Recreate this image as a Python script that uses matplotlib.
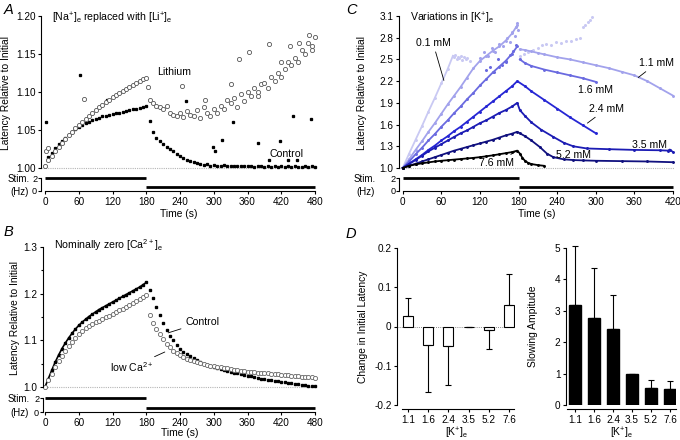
import matplotlib
matplotlib.use("Agg")
import matplotlib.pyplot as plt
from matplotlib.ticker import FormatStrFormatter

plt.rcParams["font.family"] = ["Liberation Sans", "DejaVu Sans"]
plt.rcParams["font.size"] = 7.2
plt.rcParams["mathtext.default"] = "regular"
plt.rcParams["axes.linewidth"] = 0.8

FS_TICK = 7.2
FS_LAB = 7.4
FS_TXT = 7.6

# ---------------- data ----------------
T6 = [0, 6, 12, 18, 24, 30, 36, 42, 48, 54, 60, 66, 72, 78, 84, 90, 96, 102, 108, 114,
      120, 126, 132, 138, 144, 150, 156, 162, 168, 174, 180, 186, 192, 198, 204, 210, 216,
      222, 228, 234, 240, 246, 252, 258, 264, 270, 276, 282, 288, 294, 300, 306, 312, 318,
      324, 330, 336, 342, 348, 354, 360, 366, 372, 378, 384, 390, 396, 402, 408, 414, 420,
      426, 432, 438, 444, 450, 456, 462, 468, 474, 480]

# A: Na replaced with Li
li_a = [1.002, 1.010, 1.016, 1.022, 1.028, 1.033, 1.038, 1.043, 1.048, 1.052, 1.056, 1.061,
        1.065, 1.069, 1.073, 1.076, 1.080, 1.083, 1.087, 1.090, 1.093, 1.096, 1.099, 1.101,
        1.104, 1.107, 1.109, 1.112, 1.114, 1.117, 1.119,
        1.090, 1.085, 1.082, 1.080, 1.078, 1.082, 1.072, 1.070, 1.068, 1.073, 1.067, 1.075,
        1.070, 1.068, 1.076, 1.066, 1.080, 1.073, 1.068, 1.078, 1.072, 1.082, 1.078, 1.090,
        1.085, 1.092, 1.080, 1.098, 1.088, 1.100, 1.095, 1.105, 1.100, 1.110, 1.112, 1.105,
        1.120, 1.115, 1.125, 1.120, 1.130, 1.140, 1.135, 1.145, 1.140, 1.155, 1.150, 1.165,
        1.160, 1.172]
li_a_extra_t = [2, 5, 70, 183, 243, 285, 330, 345, 362, 378, 398, 420, 436, 452, 470, 475]
li_a_extra = [1.022, 1.026, 1.091, 1.106, 1.108, 1.090, 1.110, 1.143, 1.152, 1.095, 1.163,
              1.140, 1.160, 1.165, 1.175, 1.155]
ctrl_a = [1.003, 1.015, 1.020, 1.026, 1.031, 1.036, 1.040, 1.044, 1.048, 1.051, 1.054, 1.056,
          1.059, 1.061, 1.063, 1.065, 1.066, 1.068, 1.069, 1.070, 1.071, 1.072, 1.073, 1.074,
          1.075, 1.076, 1.077, 1.078, 1.079, 1.080, 1.081,
          1.062, 1.048, 1.040, 1.035, 1.031, 1.028, 1.025, 1.022, 1.018, 1.016, 1.013, 1.011,
          1.009, 1.008, 1.006, 1.005, 1.004, 1.005, 1.003, 1.004, 1.003, 1.002, 1.004, 1.002,
          1.003, 1.002, 1.003, 1.002, 1.002, 1.003, 1.002, 1.001, 1.002, 1.002, 1.001, 1.002,
          1.001, 1.003, 1.001, 1.002, 1.001, 1.002, 1.001, 1.002, 1.001, 1.001, 1.002, 1.001,
          1.002, 1.001]
ctrl_a_extra_t = [1, 62, 110, 250, 298, 302, 314, 334, 378, 398, 418, 432, 440, 448, 472]
ctrl_a_extra = [1.061, 1.123, 1.090, 1.088, 1.028, 1.022, 1.037, 1.060, 1.033, 1.010, 1.035,
                1.010, 1.068, 1.010, 1.065]

# B: nominally zero Ca
ctrl_b = [1.000, 1.018, 1.036, 1.053, 1.068, 1.082, 1.094, 1.105, 1.115, 1.124, 1.132, 1.139,
          1.145, 1.151, 1.156, 1.161, 1.166, 1.170, 1.174, 1.178, 1.182, 1.186, 1.190, 1.194,
          1.198, 1.202, 1.206, 1.210, 1.214, 1.219, 1.224,
          1.208, 1.190, 1.172, 1.155, 1.138, 1.123, 1.110, 1.100, 1.090, 1.082, 1.076, 1.070,
          1.066, 1.062, 1.058, 1.054, 1.050, 1.047, 1.044, 1.042, 1.040, 1.038, 1.036, 1.034,
          1.032, 1.030, 1.029, 1.027, 1.026, 1.024, 1.023, 1.021, 1.020, 1.018, 1.017, 1.016,
          1.015, 1.013, 1.012, 1.011, 1.010, 1.009, 1.008, 1.007, 1.006, 1.005, 1.004, 1.003,
          1.003, 1.002]
lowca_b = [1.000, 1.014, 1.028, 1.042, 1.055, 1.067, 1.078, 1.088, 1.097, 1.105, 1.113, 1.120,
           1.126, 1.131, 1.135, 1.139, 1.142, 1.145, 1.149, 1.152, 1.156, 1.160, 1.164, 1.168,
           1.172, 1.176, 1.180, 1.184, 1.188, 1.193, 1.198,
           1.155, 1.138, 1.125, 1.113, 1.102, 1.093, 1.085, 1.078, 1.073, 1.068, 1.064, 1.060,
           1.057, 1.055, 1.053, 1.051, 1.049, 1.048, 1.046, 1.045, 1.043, 1.042, 1.041, 1.040,
           1.038, 1.037, 1.036, 1.035, 1.034, 1.033, 1.033, 1.032, 1.031, 1.030, 1.029, 1.029,
           1.028, 1.027, 1.027, 1.026, 1.025, 1.025, 1.024, 1.023, 1.023, 1.022, 1.022, 1.021,
           1.021, 1.020]

# C: variations in [K+]e  (time, value)
T_RISE = [0, 10, 20, 30, 40, 50, 60, 70, 80, 90, 100, 110, 120, 130, 140, 150, 160, 170, 178]
k01_t = [0, 10, 20, 30, 40, 50, 60, 70, 78]
k01 = [1.0, 1.2, 1.39, 1.58, 1.78, 1.97, 2.17, 2.37, 2.55]
k01_scat_t = [80, 82, 84, 86, 88, 90, 92, 95, 98, 100, 104,
              182, 188, 195, 202, 210, 216, 222, 230, 238, 246, 254, 262, 270, 276, 280, 284,
              288, 291, 294]
k01_scat = [2.53, 2.56, 2.50, 2.54, 2.52, 2.55, 2.49, 2.53, 2.50, 2.52, 2.48,
            2.55, 2.58, 2.60, 2.63, 2.66, 2.70, 2.72, 2.70, 2.74, 2.73, 2.76, 2.75, 2.78, 2.80,
            2.95, 2.98, 3.02, 3.05, 3.09]
k11 = [1.0, 1.12, 1.25, 1.37, 1.5, 1.62, 1.75, 1.88, 2.0, 2.12, 2.25, 2.38, 2.48, 2.55, 2.62,
       2.68, 2.76, 2.86, 2.97]
k11_scat_t = [120, 126, 132, 138, 144, 150, 156, 162, 166, 170, 174, 176, 178, 179]
k11_scat = [2.52, 2.60, 2.55, 2.66, 2.60, 2.72, 2.68, 2.80, 2.74, 2.88, 2.82, 2.95, 3.00, 2.90]
k11_fall_t = [182, 190, 200, 210, 220, 240, 260, 280, 300, 320, 340, 360, 380, 400, 420]
k11_fall = [2.64, 2.63, 2.61, 2.59, 2.57, 2.53, 2.50, 2.46, 2.42, 2.38, 2.33, 2.28, 2.20, 2.10,
            2.00]
k16 = [1.0, 1.09, 1.19, 1.28, 1.38, 1.47, 1.57, 1.66, 1.76, 1.85, 1.95, 2.04, 2.14, 2.23, 2.32,
       2.40, 2.48, 2.58, 2.68]
k16_scat_t = [130, 136, 142, 148, 154, 160, 166, 172, 176]
k16_scat = [2.35, 2.40, 2.33, 2.50, 2.42, 2.47, 2.56, 2.62, 2.70]
k16_fall_t = [182, 190, 200, 220, 240, 260, 280, 300]
k16_fall = [2.50, 2.45, 2.41, 2.36, 2.32, 2.28, 2.24, 2.19]
k24_t = T_RISE + [190, 200, 220, 240, 260, 280, 300]
k24 = [1.0, 1.06, 1.12, 1.18, 1.25, 1.31, 1.38, 1.44, 1.51, 1.57, 1.64, 1.71, 1.78, 1.85, 1.92,
       1.99, 2.06, 2.13, 2.20, 2.13, 2.06, 1.94, 1.82, 1.70, 1.59, 1.48]
k35_t = T_RISE + [182, 190, 200, 215, 234, 250, 265, 286, 320, 360, 400, 412, 415, 420]
k35 = [1.0, 1.055, 1.11, 1.17, 1.23, 1.28, 1.33, 1.38, 1.43, 1.48, 1.52, 1.57, 1.62, 1.66, 1.71,
       1.76, 1.80, 1.85, 1.90, 1.80, 1.72, 1.63, 1.53, 1.43, 1.35, 1.30, 1.27, 1.26, 1.25, 1.245,
       1.24, 1.255, 1.22]
k52_t = T_RISE + [182, 190, 200, 213, 224, 234, 250, 265, 280, 300, 340, 380, 420]
k52 = [1.0, 1.03, 1.06, 1.09, 1.12, 1.15, 1.18, 1.21, 1.24, 1.265, 1.29, 1.315, 1.34, 1.365,
       1.39, 1.42, 1.45, 1.475, 1.50, 1.48, 1.44, 1.38, 1.29, 1.20, 1.15, 1.12, 1.11, 1.105, 1.10,
       1.095, 1.09, 1.08]
k76_t = T_RISE + [182, 186, 190, 195, 200, 210, 220]
k76 = [1.0, 1.03, 1.05, 1.065, 1.078, 1.09, 1.10, 1.108, 1.116, 1.124, 1.132, 1.14, 1.15, 1.162,
       1.175, 1.19, 1.205, 1.22, 1.24, 1.20, 1.14, 1.10, 1.07, 1.055, 1.04, 1.03]

# stimulation protocol (start, end, rate Hz)
stim_ab = [(0, 180, 2.0), (180, 480, 0.6)]
stim_c = [(0, 180, 2.0), (180, 420, 0.6)]

# D: summary
k_labels = ["1.1", "1.6", "2.4", "3.5", "5.2", "7.6"]
init_change = [0.027, -0.047, -0.050, -0.001, -0.010, 0.054]
init_err = [0.046, 0.121, 0.100, 0.0, 0.048, 0.081]
slow_amp = [3.20, 2.78, 2.43, 1.00, 0.53, 0.50]
slow_err = [1.85, 1.59, 1.07, 0.0, 0.27, 0.28]

# ---------------- layout helpers ----------------
W, H = 680, 440
fig = plt.figure(figsize=(6.8, 4.4), dpi=100)


def axes_for(xd, xp, yd, yp, pad_l=4, pad_r=2, pad_b=3, pad_t=2):
    # xd data range shown at pixel cols xp; yd at pixel rows yp (bottom, top)
    sx = (xp[1] - xp[0]) / (xd[1] - xd[0])
    sy = (yp[0] - yp[1]) / (yd[1] - yd[0])
    x0, x1 = xp[0] - pad_l, xp[1] + pad_r
    yb, yt = yp[0] + pad_b, yp[1] - pad_t
    ax = fig.add_axes([x0 / W, 1 - yb / H, (x1 - x0) / W, (yb - yt) / H])
    ax.set_xlim(xd[0] - pad_l / sx, xd[1] + pad_r / sx)
    ax.set_ylim(yd[0] - pad_b / sy, yd[1] + pad_t / sy)
    ax.patch.set_alpha(0)
    for s in ("top", "right"):
        ax.spines[s].set_visible(False)
    ax.tick_params(direction="out", length=2.5, width=0.8, pad=1.5, labelsize=FS_TICK)
    return ax


def main_axes(xd, xp, yd, yp, yticks, fmt, ylab_x, pad_l=4):
    ax = axes_for(xd, xp, yd, yp, pad_l=pad_l)
    ax.spines["bottom"].set_visible(False)
    ax.set_xticks([])
    ax.spines["left"].set_bounds(*yd)
    ax.set_yticks(yticks)
    ax.yaxis.set_major_formatter(FormatStrFormatter(fmt))
    ax.axhline(yd[0], color="#b5b5b5", lw=0.8, ls=(0, (1, 1)), zorder=0)
    ax.set_ylabel("Latency Relative to Initial", fontsize=FS_LAB)
    ax.yaxis.set_label_coords(ylab_x, 0.5)
    return ax


def stim_axes(xd, xp, yp, xticks, phases, txt_x, pad_l=4):
    ax = axes_for(xd, xp, (0, 2), yp, pad_l=pad_l, pad_b=1, pad_t=1)
    ax.spines["left"].set_bounds(0, 2)
    ax.spines["bottom"].set_position(("data", 0))
    ax.spines["bottom"].set_bounds(*xd)
    ax.set_yticks([0, 2])
    ax.set_xticks(xticks)
    ax.tick_params(axis="y", length=2, pad=0.8, labelsize=6.6)
    ax.tick_params(axis="x", pad=2)
    for t0, t1, rate in phases:
        ax.plot([t0, t1], [rate, rate], color="black", lw=2.0, solid_capstyle="butt")
    ax.set_xlabel("Time (s)", fontsize=FS_LAB, labelpad=1)
    fig.text(txt_x / W, 1 - (yp[1] + 1.0) / H, "Stim.", ha="right", va="center", fontsize=7.0)
    fig.text((txt_x - 1) / W, 1 - (yp[0] + 0.5) / H, "(Hz)", ha="right", va="center", fontsize=7.0)
    return ax


# ---------------- A ----------------
axA = main_axes((0, 480), (45, 315), (1.0, 1.2), (168, 16),
                [1.0, 1.05, 1.1, 1.15, 1.2], "%.2f", -0.11)
axA.plot(T6, ctrl_a, ls="none", marker="s", ms=1.4, color="black", clip_on=False)
axA.plot(ctrl_a_extra_t, ctrl_a_extra, ls="none", marker="s", ms=1.4, color="black")
axA.plot(T6, li_a, ls="none", marker="o", ms=3, mfc="white", mec="#555555", mew=0.6, clip_on=False)
axA.plot(li_a_extra_t, li_a_extra, ls="none", marker="o", ms=3, mfc="white", mec="#555555", mew=0.6)
axA.text(0.04, 0.975, "[Na$^{+}$]$_{e}$ replaced with [Li$^{+}$]$_{e}$", transform=axA.transAxes,
         fontsize=FS_TXT, va="center")
axA.text(199, 1.126, "Lithium", fontsize=FS_TXT, va="center")
axA.text(400, 1.018, "Control", fontsize=FS_TXT, va="center")
stim_axes((0, 480), (45, 315), (191, 178), range(0, 481, 60), stim_ab, 30)

# ---------------- B ----------------
axB = main_axes((0, 480), (45, 315), (1.0, 1.3), (387, 247),
                [1.0, 1.1, 1.2, 1.3], "%.1f", -0.085, pad_l=2)
axB.set_yticks([1.05, 1.15, 1.25], minor=True)
axB.tick_params(which="minor", length=1.5, width=0.8)
axB.plot(T6[:31], ctrl_b[:31], color="black", lw=1.2)
axB.plot(T6, ctrl_b, ls="none", marker="s", ms=1.6, color="black", clip_on=False)
axB.plot(T6, lowca_b, ls="none", marker="o", ms=3, mfc="white", mec="#666666", mew=0.6, clip_on=False)
axB.text(0.04, 1.0, "Nominally zero [Ca$^{2+}$]$_{e}$", transform=axB.transAxes,
         fontsize=FS_TXT, va="center")
axB.annotate("Control", xy=(219, 1.116), xytext=(249, 1.139), fontsize=FS_TXT, va="center",
             arrowprops=dict(arrowstyle="-", lw=0.6, color="black", shrinkA=1, shrinkB=0))
axB.annotate("low Ca$^{2+}$", xy=(213, 1.075), xytext=(116, 1.043), fontsize=FS_TXT, va="center",
             arrowprops=dict(arrowstyle="-", lw=0.6, color="black", shrinkA=1, shrinkB=0))
sB = stim_axes((0, 480), (45, 315), (412, 398), range(0, 481, 60), stim_ab, 30, pad_l=2)
sB.set_xlabel("Time (s)", fontsize=FS_LAB, labelpad=0)

# ---------------- C ----------------
axC = main_axes((0, 420), (402.7, 673), (1.0, 3.1), (168, 16),
                [1.0, 1.3, 1.6, 1.9, 2.2, 2.5, 2.8, 3.1], "%.1f", -0.115, pad_l=3.5)
c01, c11, c16 = "#c9c9f3", "#a2a2ec", "#6a6ae0"
c24, c35, c52, c76 = "#2626d4", "#1c1cb4", "#10107e", "black"
line_kw = dict(lw=1.3, marker=".", ms=2.2)
axC.plot(k01_t, k01, color=c01, **line_kw)
axC.plot(k01_scat_t, k01_scat, ls="none", marker=".", ms=2.4, color=c01)
axC.plot(T_RISE, k11, color=c11, **line_kw)
axC.plot(k11_scat_t, k11_scat, ls="none", marker=".", ms=2.4, color=c11)
axC.plot(k11_fall_t, k11_fall, color=c11, **line_kw)
axC.plot(T_RISE, k16, color=c16, **line_kw)
axC.plot(k16_scat_t, k16_scat, ls="none", marker=".", ms=2.4, color=c16)
axC.plot(k16_fall_t, k16_fall, color=c16, **line_kw)
axC.plot(k24_t, k24, color=c24, **line_kw)
axC.plot(k35_t, k35, color=c35, **line_kw)
axC.plot(k52_t, k52, color=c52, **line_kw)
axC.plot(k76_t, k76, color=c76, **line_kw)
axC.text(0.04, 0.975, "Variations in [K$^{+}$]$_{e}$", transform=axC.transAxes,
         fontsize=FS_TXT, va="center")
ann = dict(arrowstyle="-", lw=0.6, color="black", shrinkA=1, shrinkB=0)
axC.annotate("0.1 mM", xy=(64, 2.21), xytext=(47, 2.73), fontsize=FS_TXT, ha="center", va="center",
             arrowprops=ann)
axC.annotate("1.1 mM", xy=(366, 2.25), xytext=(395, 2.45), fontsize=FS_TXT, ha="center", va="center",
             arrowprops=ann)
axC.text(299, 2.08, "1.6 mM", fontsize=FS_TXT, ha="center", va="center")
axC.annotate("2.4 mM", xy=(287, 1.62), xytext=(317, 1.82), fontsize=FS_TXT, ha="center", va="center",
             arrowprops=ann)
axC.text(384, 1.32, "3.5 mM", fontsize=FS_TXT, ha="center", va="center")
axC.text(265, 1.18, "5.2 mM", fontsize=FS_TXT, ha="center", va="center")
axC.annotate("7.6 mM", xy=(175, 1.225), xytext=(146, 1.07), fontsize=FS_TXT, ha="center", va="center",
             arrowprops=ann)
stim_axes((0, 420), (402.7, 673), (191, 178), range(0, 421, 60), stim_c, 376, pad_l=3.5)

# ---------------- D ----------------
pos = list(range(len(k_labels)))
err_kw = dict(elinewidth=0.8, capthick=0.8, ecolor="black", clip_on=False)
axD1 = axes_for((0, 5), (408, 509), (-0.2, 0.2), (405, 248), pad_l=11, pad_r=6, pad_b=0, pad_t=0)
lo = [e if m < 0 else 0 for m, e in zip(init_change, init_err)]
hi = [e if m >= 0 else 0 for m, e in zip(init_change, init_err)]
axD1.axhline(0, color="#888888", lw=0.7, ls=(0, (1, 1.2)), zorder=0)
axD1.bar(pos, init_change, width=0.5, color="white", edgecolor="black", lw=0.8,
         yerr=[lo, hi], capsize=2, error_kw=err_kw)
axD1.set_yticks([-0.2, -0.1, 0, 0.1, 0.2])
axD1.set_yticklabels(["-0.2", "-0.1", "0", "0.1", "0.2"])
axD1.spines["bottom"].set_position(("outward", 3))
axD1.spines["bottom"].set_bounds(-0.3, 5.25)
axD1.set_xticks(pos)
axD1.set_xticklabels(k_labels)
axD1.set_xlabel("[K$^{+}$]$_{e}$", fontsize=FS_LAB, labelpad=1)
axD1.set_ylabel("Change in Initial Latency", fontsize=FS_LAB)
axD1.yaxis.set_label_coords(-0.25, 0.5)

axD2 = axes_for((0, 5), (575, 670), (0, 5), (405, 248), pad_l=9, pad_r=6, pad_b=0, pad_t=0)
axD2.bar(pos, slow_amp, width=0.62, color="black", edgecolor="black",
         yerr=[[0] * len(slow_err), slow_err], capsize=2, error_kw=err_kw)
axD2.set_yticks([0, 1, 2, 3, 4, 5])
axD2.spines["bottom"].set_position(("outward", 3))
axD2.spines["bottom"].set_bounds(-0.4, 5.3)
axD2.set_xticks(pos)
axD2.set_xticklabels(k_labels)
axD2.set_xlabel("[K$^{+}$]$_{e}$", fontsize=FS_LAB, labelpad=1)
axD2.set_ylabel("Slowing Ampitude", fontsize=FS_LAB)
axD2.yaxis.set_label_coords(-0.25, 0.5)

# panel letters
for letter, x, y in [("A", 4, 10), ("B", 4, 232), ("C", 346, 10), ("D", 346, 234)]:
    fig.text(x / W, 1 - y / H, letter, fontsize=10.5, style="italic", va="center")

fig.savefig("out.png", dpi=100)
